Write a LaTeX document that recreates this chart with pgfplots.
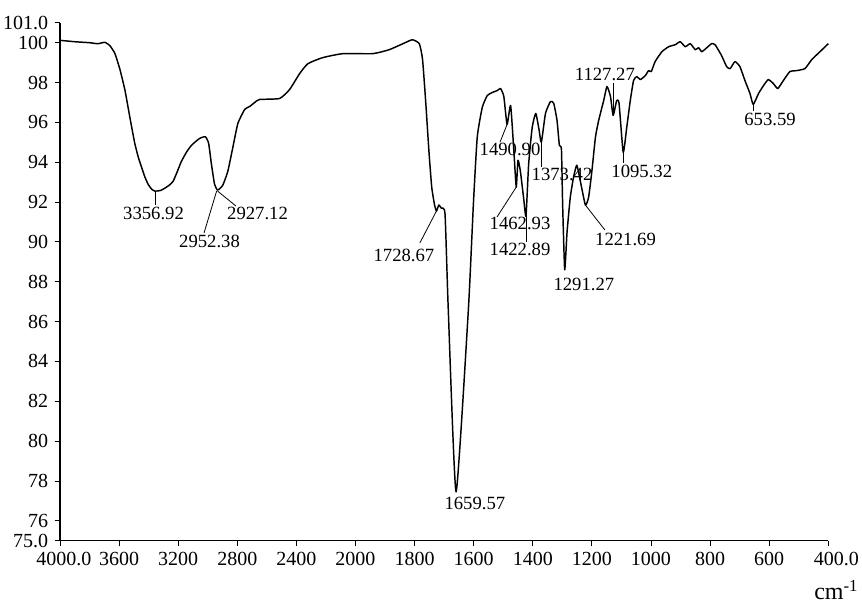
\documentclass[border=0pt]{standalone}
\usepackage{fontspec}
\setmainfont{Liberation Serif}
\usepackage{pgfplots}
\pgfplotsset{compat=1.18}
\begin{document}
\fontsize{14}{16}\selectfont
\begin{tikzpicture}
\begin{axis}[name=ax, scale only axis, width=576.2pt, height=388.4pt,
 x coord trafo/.code={\pgfmathparse{-(min(#1,2000)+0.5*max(#1-2000,0))}},
 xmin=4000, xmax=400, ymin=75, ymax=101,
 axis lines=left, axis line style={-, line width=0.8pt},
 xtick={4000,3600,3200,2800,2400,2000,1800,1600,1400,1200,1000,800,600,400},
 xticklabels={{\raisebox{-5pt}{\hspace*{6pt}4000.0}},3600,3200,2800,2400,2000,1800,1600,1400,1200,1000,800,600,{\hspace*{12pt}400.0}},
 ytick={76,78,...,100}, extra y ticks={75,101}, extra y tick labels={75.0,101.0},
 extra y tick style={grid=none},
 tick align=outside, major tick length=4pt, tick style={black, line width=0.6pt},
 /pgf/number format/assume math mode=true,
 tick label style={font=\fontsize{15}{17}\selectfont},
 clip=false,
]
\addplot[black, line width=1.1pt, line join=round, smooth, tension=0.3] table {
4000 100.12
3900 100.05
3800 100.0
3744 99.95
3696 100.02
3662 99.85
3628 99.45
3594 98.65
3560 97.6
3527 96.25
3494 94.95
3470 94.25
3448 93.75
3425 93.25
3404 92.9
3380 92.65
3357 92.55
3320 92.58
3290 92.7
3260 92.85
3234 93.05
3205 93.55
3178 94.05
3140 94.55
3110 94.85
3080 95.05
3054 95.2
3016 95.28
2994 94.95
2976 93.95
2954 92.9
2933 92.6
2898 92.85
2864 93.55
2830 94.75
2796 95.95
2750 96.65
2716 96.8
2682 97.0
2650 97.15
2514 97.2
2446 97.65
2378 98.45
2322 98.95
2222 99.25
2086 99.45
1942 99.45
1886 99.65
1829 100.02
1807 100.15
1784 99.95
1773 99.15
1762 96.95
1751 94.45
1742 92.75
1733 91.9
1726 91.55
1718 91.85
1710 91.7
1697 91.4
1686 86.6
1659.57 77.45
1618 86.6
1601 91.9
1588 95.25
1571 96.75
1554 97.35
1537 97.5
1520 97.6
1509 97.7
1498 97.3
1487 95.9
1475 96.85
1464 94.55
1456 92.75
1450 94.1
1442 93.55
1431 92.2
1423 91.3
1414 93.9
1402 95.75
1390 96.45
1379 95.65
1371 95.0
1357 96.45
1340 97.05
1329 96.95
1318 96.1
1310 94.85
1303 94.65
1299 91.9
1292 88.6
1284 90.5
1273 92.25
1262 93.25
1251 93.85
1239 93.05
1222 91.85
1211 92.25
1200 93.55
1188 95.25
1177 96.1
1160 97.1
1149 97.8
1137 97.3
1128 96.35
1116 97.1
1108 96.95
1094 94.5
1082 95.75
1070 97.1
1059 98.1
1048 98.3
1036 98.15
1019 98.35
1008 98.6
999 98.55
986 99.05
963 99.55
940 99.8
918 99.9
901 100.05
884 99.8
867 99.95
850 99.65
839 99.75
828 99.55
811 99.75
795 99.95
783 99.9
761 99.35
744 98.8
732 98.7
716 99.05
699 98.8
682 98.1
665 97.45
654 96.9
636 97.45
619 97.85
603 98.15
586 97.95
571 97.7
552 98.1
530 98.55
507 98.6
479 98.7
456 99.15
428 99.55
400 99.95
};
\begin{scope}[line width=0.6pt]
\draw (axis cs:3357,92.5) -- (axis cs:3357,91.85);
\draw (axis cs:2933,92.55) -- (axis cs:2809,91.8);
\draw (axis cs:2940,92.55) -- (axis cs:3025,90.45);
\draw (axis cs:1726,91.55) -- (axis cs:1782,89.95);
\draw (axis cs:1487,95.9) -- (axis cs:1511,95.0);
\draw (axis cs:1456,92.75) -- (axis cs:1521,91.25);
\draw (axis cs:1422,91.3) -- (axis cs:1422,90.0);
\draw (axis cs:1371,95.0) -- (axis cs:1371,93.75);
\draw (axis cs:1222,91.85) -- (axis cs:1156,90.6);
\draw (axis cs:1127,96.4) -- (axis cs:1127,98.0);
\draw (axis cs:1094,94.5) -- (axis cs:1094,93.95);
\draw (axis cs:654,96.9) -- (axis cs:654,96.55);
\end{scope}
\begin{scope}[every node/.style={inner sep=0pt, font=\fontsize{14}{16}\selectfont}]
\node[anchor=north] at (axis cs:3367,91.75) {3356.92};
\node[anchor=north west] at (axis cs:2870,91.75) {2927.12};
\node[anchor=north] at (axis cs:2988,90.35) {2952.38};
\node[anchor=north] at (axis cs:1836,89.65) {1728.67};
\node[anchor=north] at (axis cs:1596,77.2) {1659.57};
\node[anchor=north] at (axis cs:1477,94.97) {1490.90};
\node[anchor=north] at (axis cs:1443,91.25) {1462.93};
\node[anchor=north] at (axis cs:1443,89.95) {1422.89};
\node[anchor=north] at (axis cs:1301,93.7) {1373.42};
\node[anchor=north] at (axis cs:1227,88.2) {1291.27};
\node[anchor=north] at (axis cs:1086,90.45) {1221.69};
\node[anchor=south] at (axis cs:1156,98.1) {1127.27};
\node[anchor=north] at (axis cs:1031,93.85) {1095.32};
\node[anchor=north] at (axis cs:597,96.5) {653.59};
\end{scope}
\end{axis}
\node[anchor=center, inner sep=0pt, font=\fontsize{18}{20}\selectfont] at ([shift={(6pt,-37pt)}]ax.south east) {cm\textsuperscript{-1}};
\pgfresetboundingbox
\path ([shift={(-45pt,-49pt)}]ax.south west) rectangle ([shift={(25.3pt,17.1pt)}]ax.north east);
\end{tikzpicture}
\end{document}
